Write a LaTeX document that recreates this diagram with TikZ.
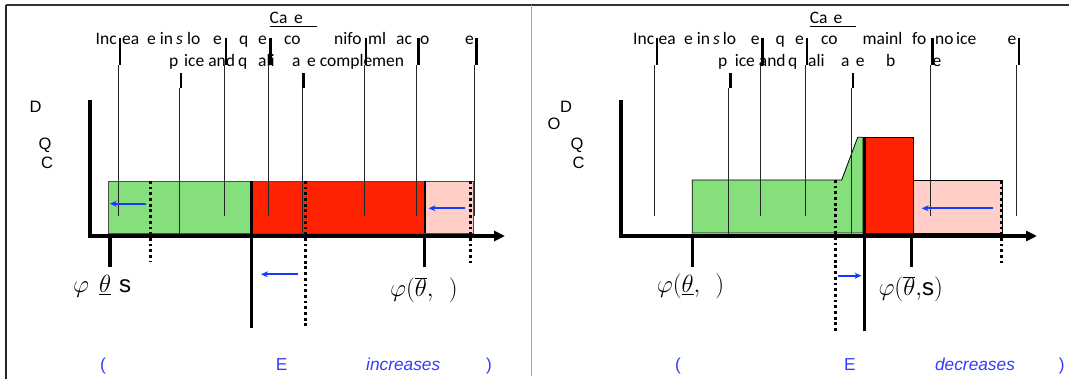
\documentclass[tikz,border=0pt]{standalone}
\usepackage{fontspec}
\setmainfont{Carlito}
\newfontfamily\arial{Liberation Sans}
\usetikzlibrary{arrows.meta}
\definecolor{gfill}{RGB}{133,224,123}
\definecolor{rfill}{RGB}{255,34,0}
\definecolor{pfill}{RGB}{255,206,198}
\definecolor{bluearr}{RGB}{20,60,255}
\definecolor{bluetxt}{RGB}{50,60,255}
\definecolor{divider}{RGB}{142,169,204}
\begin{document}
\begin{tikzpicture}[x=1pt,y=-1pt,
  frag/.style={font=\fontsize{17.5}{20}\selectfont, inner sep=0, anchor=base west},
  axlab/.style={font=\arial\fontsize{16.5}{19}\selectfont, inner sep=0, anchor=base west},
  btxt/.style={font=\arial\fontsize{17.3}{20}\selectfont, text=bluetxt, inner sep=0, anchor=base west},
  mlab/.style={font=\fontsize{24}{28}\selectfont, inner sep=0, anchor=base west},
  seg/.style={line width=2.6pt, black},
  vline/.style={line width=0.9pt, black!85},
  axisl/.style={line width=3.6pt, black, -{Triangle[length=11pt,width=10pt]}},
  dotl/.style={line width=3pt, black, dash pattern=on 2.8pt off 2.9pt},
  tickm/.style={line width=3.4pt, black},
  barr/.style={bluearr, line width=1.7pt, -{Stealth[length=7pt,width=6pt]}},
  boxl/.style={draw=black!70, line width=0.8pt}]
\useasboundingbox (0,0) rectangle (1069,379);
% frame
\draw[line width=1.2pt, black!80] (6,5) -- (1069,5);
\draw[line width=1.4pt, black!85] (6,5) -- (6,379);
\draw[line width=1pt, divider] (531,5) -- (531,376);

% ===== LEFT PANEL =====
\filldraw[fill=gfill, boxl] (108.3,181) rectangle (251.7,233);
\filldraw[fill=rfill, boxl] (251.7,181) rectangle (425,233);
\filldraw[fill=pfill, boxl] (425,181) rectangle (473.3,233);
\draw[line width=1.6pt, black] (425,181) -- (425,233);
% title
\node[frag] (tl1) at (269.5,24) {Ca};
\node[frag] (tl2) at (294,24) {e};
\draw[line width=0.9pt] (269.5,26.5) -- (316.6,26.5);
% text lines
\foreach \x/\t [count=\i] in {95.5/Inc, 122/ea, 147/e in, 176/{\itshape s}, 187/lo, 213/e, 239/q, 258/e, 284/co, 334/nifo, 368/ml, 396/ac, 420/o, 465/e}
  \node[frag] (la\i) at (\x,45) {\t};
\foreach \x/\t [count=\i] in {169/p, 184/ice and, 238/q, 258/ali, 292/a, 307/e complemen}
  \node[frag] (lb\i) at (\x,67) {\t};
% vertical lines
\foreach \x in {118.4,224.2,268.5,364,416.2,474.2}
  \draw[vline] (\x,65) -- (\x,216);
\draw[vline] (179.8,88) -- (179.8,238);
\draw[vline] (302.6,88) -- (302.6,233);
\foreach \x in {120.1,225.9,270.2,366.1,418.3,476.3}
  \draw[seg] (\x,38) -- (\x,65);
\foreach \x in {180.8,303.6}
  \draw[seg] (\x,73) -- (\x,88);
% dotted
\draw[dotl] (150.7,181) -- (150.7,262);
\draw[dotl] (305,181) -- (305,327);
\draw[dotl] (470,181) -- (470,263);
% axes
\draw[axisl] (90,100) -- (90,236) -- (505,236);
\draw[line width=3pt] (251.7,181) -- (251.7,328);
\draw[tickm] (110,236) -- (110,267);
\draw[tickm] (424.5,236) -- (424.5,267);
% blue arrows
\draw[barr] (145.7,203.7) -- (109.8,203.7);
\draw[barr] (465,208.3) -- (428.5,208.3);
\draw[barr] (297.7,274.3) -- (261,274.3);
% axis letters
\node[axlab] (lD) at (29.5,112.5) {D};
\node[axlab] (lQ) at (38.5,149.5) {Q};
\node[axlab] (lC) at (41,168.5) {C};
% math labels
\node[mlab] (lm1) at (73,293) {$\varphi$};
\node[mlab] (lm2) at (99,293) {$\underline{\theta}$};
\node[mlab] (lm3) at (119,293) {\arial s};
\node[mlab] (lm4) at (390,297) {$\varphi(\overline{\theta},\ \ )$};
% bottom text
\node[btxt] (lt1) at (100,370.7) {(};
\node[btxt] (lt2) at (275.7,370.7) {E};
\node[btxt] (lt3) at (366,370.7) {\itshape increases};
\node[btxt] (lt4) at (486,370.7) {)};

% ===== RIGHT PANEL =====
\filldraw[fill=gfill, draw=black, line width=0.8pt] (692.3,233) -- (692.3,180) -- (841.7,180) -- (857.7,137.3) -- (863,137.3) -- (863,233) -- cycle;
\filldraw[fill=rfill, draw=black, line width=0.8pt] (864,137.3) rectangle (913.3,233);
\filldraw[fill=pfill, draw=black, line width=0.8pt] (913.3,180.7) rectangle (1002.7,233);
% title
\node[frag] (tr1) at (809.6,24) {Ca};
\node[frag] (tr2) at (833.5,24) {e};
\draw[line width=0.9pt] (809.6,26.5) -- (856.4,26.5);
\foreach \x/\t [count=\i] in {633/Inc, 658.5/ea, 684/e in, 713/{\itshape s}, 722.6/lo, 750.6/e, 775.5/q, 795/e, 821/co, 862.5/mainl, 912/fo, 935/no, 956/ice, 1007.5/e}
  \node[frag] (ra\i) at (\x,45) {\t};
\foreach \x/\t [count=\i] in {718/p, 734.6/ice and, 788/q, 808/ali, 841/a, 855.7/e, 886/b, 932.5/e}
  \node[frag] (rb\i) at (\x,67) {\t};
\foreach \x in {654.4,760.2,805.2,930.8,1016.7}
  \draw[vline] (\x,65) -- (\x,216);
\draw[vline] (728.8,88) -- (728.8,238);
\draw[vline] (851.6,88) -- (851.6,238);
\foreach \x in {656.8,762.6,807,932.5,1018.8}
  \draw[seg] (\x,38) -- (\x,65);
\foreach \x in {730.5,853}
  \draw[seg] (\x,73) -- (\x,88);
\draw[dotl] (835,180) -- (835,332);
\draw[dotl] (1001,181) -- (1001,263);
\draw[axisl] (620.7,100) -- (620.7,236) -- (1037,236);
\draw[line width=3pt] (864.3,137.3) -- (864.3,330.7);
\draw[tickm] (692.3,236) -- (692.3,267);
\draw[tickm] (911.7,236) -- (911.7,267);
\draw[barr] (993.3,208.3) -- (921.7,208.3);
\draw[barr] (838.3,275.7) -- (861.5,275.7);
\node[axlab] (rD) at (560,112.5) {D};
\node[axlab] (rO) at (547.5,129.5) {O};
\node[axlab] (rQ) at (570.5,149.5) {Q};
\node[axlab] (rC) at (572.5,168.5) {C};
\node[mlab] (rm1) at (656.7,293) {$\varphi(\underline{\theta},\ \ )$};
\node[mlab] (rm2) at (878.3,296) {$\varphi(\overline{\theta},${\arial s}$)$};
\node[btxt] (rt1) at (675,370.7) {(};
\node[btxt] (rt2) at (843.8,370.7) {E};
\node[btxt] (rt3) at (934.9,370.7) {\itshape decreases};
\node[btxt] (rt4) at (1058.7,370.7) {)};
\end{tikzpicture}
\end{document}
